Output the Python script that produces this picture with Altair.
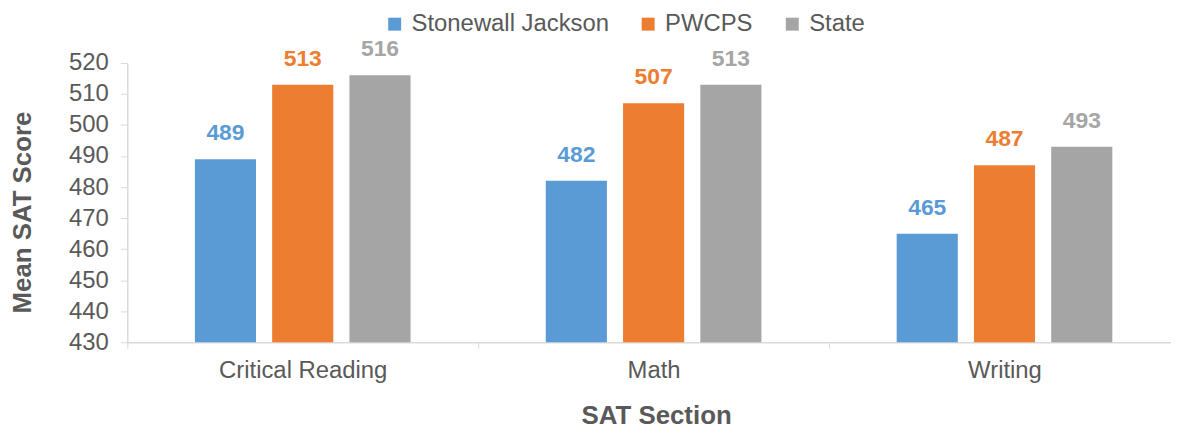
import altair as alt
import pandas as pd

sections = ["Critical Reading", "Math", "Writing"]
series = ["Stonewall Jackson", "PWCPS", "State"]
stonewall = [489, 482, 465]
pwcps = [513, 507, 487]
state = [516, 513, 493]
colors = ["#5B9BD5", "#ED7D31", "#A5A5A5"]
y_ticks = list(range(430, 521, 10))

rows = []
for i, s in enumerate(sections):
    for name, vals in zip(series, [stonewall, pwcps, state]):
        rows.append({"section": s, "series": name, "score": vals[i]})
df = pd.DataFrame(rows)

FONT = "Liberation Sans"
TXT = "#595959"

x_enc = alt.X("section:N", sort=sections,
              scale=alt.Scale(range=[0, 1059], paddingInner=0, paddingOuter=0),
              axis=alt.Axis(title="SAT Section", labelAngle=0, tickBand="extent",
                            labelFontSize=24, labelColor=TXT, labelFont=FONT,
                            labelPadding=10, tickSize=6, tickColor="#d9d9d9",
                            domainColor="#d9d9d9", domainWidth=1.5, labelLimit=0,
                            titleFontSize=26, titleFont=FONT, titleColor=TXT,
                            titleFontWeight="bold", titleX=532, titleY=74,
                            titleBaseline="middle", titleAnchor="middle"))
xo_enc = alt.XOffset("series:N", sort=series,
                     scale=alt.Scale(paddingInner=0.209, paddingOuter=0.875))
y_enc = alt.Y("score:Q", scale=alt.Scale(domain=[430, 520], nice=False, zero=False),
              axis=alt.Axis(title="Mean SAT Score", values=y_ticks, grid=False,
                            labelOverlap=False, labelFlush=False,
                            labelFontSize=24, labelColor=TXT, labelFont=FONT,
                            labelPadding=12, tickSize=7, tickColor="#d9d9d9",
                            domainColor="#d9d9d9", domainWidth=1.5,
                            titleFontSize=26, titleFont=FONT, titleColor=TXT,
                            titleFontWeight="bold", titleX=-105, titleY=150,
                            titleBaseline="middle", titleAnchor="middle", titleAngle=270))
color_enc = alt.Color("series:N", sort=series,
                      scale=alt.Scale(domain=series, range=colors),
                      legend=alt.Legend(title=None, orient="none", direction="horizontal",
                                        legendX=257, legendY=-51, symbolType="square",
                                        symbolSize=170, symbolStrokeWidth=0, labelLimit=0,
                                        labelFontSize=24, labelFont=FONT, labelColor=TXT,
                                        labelOffset=5, columnPadding=27))

bars = alt.Chart(df).mark_bar(clip=True).encode(x=x_enc, xOffset=xo_enc, y=y_enc, color=color_enc)
labels = alt.Chart(df).mark_text(baseline="bottom", dy=-14, fontSize=23, fontWeight="bold",
                                 font=FONT).encode(
    x=x_enc, xOffset=xo_enc, y=y_enc, text="score:Q", color=color_enc)

chart = alt.layer(bars, labels).properties(
    width=1050, height=281,
    autosize=alt.AutoSizeParams(type="none"),
    padding={"left": 120, "top": 54, "right": 0, "bottom": 86},
).configure_view(stroke=None).configure_legend(orient="none").configure_axis(labelOverlap=False)

chart.save("out.html", embed_options={"renderer": "svg", "actions": False})
